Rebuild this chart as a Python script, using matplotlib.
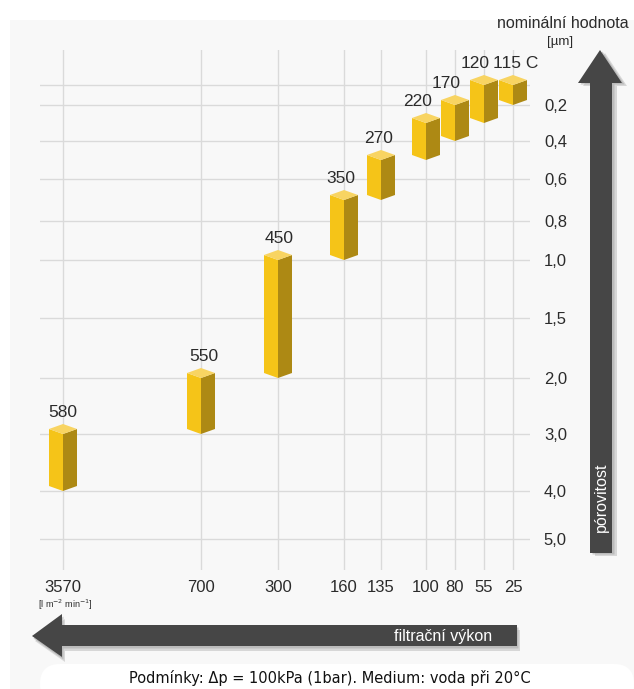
import numpy as np
import matplotlib
matplotlib.use('Agg')
import matplotlib.pyplot as plt
from matplotlib.patches import Polygon, Rectangle, FancyBboxPatch

# filtration flow on the bottom axis [l m-2 min-1]
flow_labels = ['3570', '700', '300', '160', '135', '100', '80', '55', '25']
# nominal value of each filter grade (label above the bar)
grade_labels = ['580', '550', '450', '350', '270', '220', '170', '120', '115 C']
# porosity range of each grade [um], top and bottom of the bar
por_top = [3.0, 2.0, 1.0, 0.7, 0.5, 0.3, 0.2, 0.1, 0.1]
por_bot = [4.0, 3.0, 2.0, 1.0, 0.7, 0.5, 0.4, 0.3, 0.2]
# porosity levels on the right axis
levels = [0.1, 0.2, 0.4, 0.6, 0.8, 1.0, 1.5, 2.0, 3.0, 4.0, 5.0]
level_labels = ['', '0,2', '0,4', '0,6', '0,8', '1,0', '1,5', '2,0', '3,0', '4,0', '5,0']

# layout (pixels, origin top left)
W, H = 634, 689
x_pos = [63, 201, 278, 344, 381, 426, 455, 484, 513]
lv_ext = [-0.1] + levels + [5.6]
px_ext = [50, 85, 105, 141, 179, 221, 260, 318, 378, 434, 491, 539, 570]
label_dx = [0, 3, 1, -3, -2, -8, -9, -9, 3]

plt.rcParams['font.family'] = ['Liberation Sans', 'DejaVu Sans']
TXT = '#2b2b2b'

fig = plt.figure(figsize=(W / 100, H / 100), dpi=100)

# background panel
bg = fig.add_axes([0, 0, 1, 1], zorder=0)
bg.set_xlim(0, W)
bg.set_ylim(H, 0)
bg.axis('off')
bg.add_patch(Rectangle((10, 20), W - 10, H - 20, color='#f8f8f8', lw=0))
bg.add_patch(FancyBboxPatch((40, 664), W - 40, 40, boxstyle='round,pad=0,rounding_size=20',
                            color='white', lw=0))

# main axes: grid + tick labels
ax = fig.add_axes([40 / W, (H - 570) / H, 490 / W, 520 / H], zorder=1)
ax.patch.set_visible(False)


def fwd(v):
    return np.interp(v, lv_ext, px_ext)


def inv(p):
    return np.interp(p, px_ext, lv_ext)


ax.set_yscale('function', functions=(fwd, inv))
ax.set_xlim(40, 530)
ax.set_ylim(lv_ext[-1], lv_ext[0])
ax.set_xticks(x_pos)
ax.set_xticklabels(flow_labels, fontsize=12, color=TXT)
ax.set_yticks(levels)
ax.set_yticklabels(level_labels, fontsize=12, color=TXT)
ax.yaxis.tick_right()
ax.tick_params(axis='x', length=0, pad=7)
ax.tick_params(axis='y', length=0, pad=10)
ax.yaxis.set_minor_locator(matplotlib.ticker.NullLocator())
ax.grid(True, color='#dadada', lw=1)
for s in ax.spines.values():
    s.set_visible(False)

# overlay in pixel coords
ov = fig.add_axes([0, 0, 1, 1], zorder=2)
ov.set_xlim(0, W)
ov.set_ylim(H, 0)
ov.axis('off')
ov.patch.set_visible(False)


def to_px(x, v):
    d = ax.transData.transform((x, v))
    return ov.transData.inverted().transform(d)


hw, d = 14, 5
for i in range(len(grade_labels)):
    x, yt = to_px(x_pos[i], por_top[i])
    _, yb = to_px(x_pos[i], por_bot[i])
    left = [(x - hw, yt - d), (x, yt), (x, yb), (x - hw, yb - d)]
    right = [(x, yt), (x + hw, yt - d), (x + hw, yb - d), (x, yb)]
    top = [(x - hw, yt - d), (x, yt), (x + hw, yt - d), (x, yt - 2 * d)]
    ov.add_patch(Polygon(left, closed=True, fc='#f5c418', ec='none'))
    ov.add_patch(Polygon(right, closed=True, fc='#ad8914', ec='none'))
    ov.add_patch(Polygon(top, closed=True, fc='#f8d462', ec='none'))
    ov.text(x + label_dx[i], yt - 14, grade_labels[i], fontsize=12.5, color=TXT,
            ha='center', va='bottom')

# arrows with soft shadow
up = np.array([(590, 553), (590, 83), (578, 83), (600, 50), (622, 83), (612, 83), (612, 553)])
lt = np.array([(517, 625), (62, 625), (62, 614), (32, 636), (62, 657), (62, 646), (517, 646)])
for pts, off in ((up, (5, 3)), (lt, (3, 5))):
    ov.add_patch(Polygon(pts + np.array(off), closed=True, fc='#b8b8b8', ec='none', alpha=0.5))
    ov.add_patch(Polygon(pts + np.array(off) * 0.5, closed=True, fc='#a0a0a0', ec='none', alpha=0.5))
    ov.add_patch(Polygon(pts, closed=True, fc='#464646', ec='none'))

ov.text(601, 497, 'pórovitost', rotation=90, color='white', fontsize=11.5,
        ha='center', va='center')
ov.text(492, 636, 'filtrační výkon', color='white', fontsize=11.5, ha='right', va='center')

ov.text(629, 24, 'nominální hodnota', fontsize=11.5, color=TXT, ha='right', va='center')
ov.text(560, 42, '[µm]', fontsize=9.5, color=TXT, ha='center', va='center')
ov.text(65, 605, r'[l m$^{-2}$ min$^{-1}$]', fontsize=6.5, color=TXT, ha='center', va='center')

ov.text(330, 678, 'Podmínky: Δp = 100kPa (1bar). Medium: voda při 20°C',
        family='DejaVu Sans', fontsize=10.5, color='#111111', ha='center', va='center')

fig.savefig('out.png', dpi=100)
